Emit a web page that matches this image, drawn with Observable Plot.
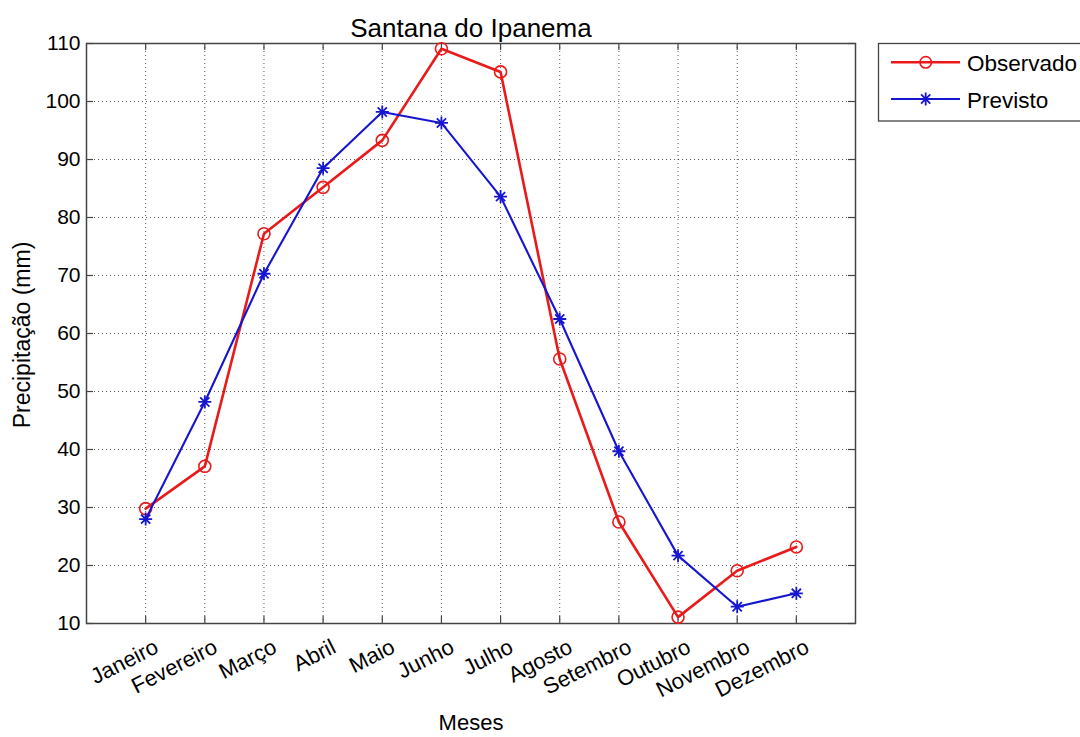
<!DOCTYPE html>
<html><head><meta charset="utf-8">
<script src="https://cdn.jsdelivr.net/npm/d3@7"></script>
<script src="https://cdn.jsdelivr.net/npm/@observablehq/plot@0.6"></script>
<style>
html,body{margin:0;padding:0;background:#fff;overflow:hidden;width:1080px;height:737px}
#chart{position:relative;width:1080px;height:737px;overflow:hidden}
</style></head><body><div id="chart"></div>
<script>
// ---- data ----
const months = ["Janeiro","Fevereiro","Março","Abril","Maio","Junho","Julho","Agosto","Setembro","Outubro","Novembro","Dezembro"];
const monthIndex = [1,2,3,4,5,6,7,8,9,10,11,12];
const observado = [29.8, 37.1, 77.2, 85.2, 93.3, 109.1, 105.1, 55.6, 27.5, 11.1, 19.1, 23.2];
const previsto  = [28.0, 48.2, 70.3, 88.5, 98.2, 96.3, 83.6, 62.5, 39.7, 21.7, 12.9, 15.2];
const yTicks = [10,20,30,40,50,60,70,80,90,100,110];
const seriesNames = ["Observado","Previsto"];
const seriesColors = ["#ea1a1a","#1616d0"];
const titleText = "Santana do Ipanema";
const xLabelText = "Meses";
const yLabelText = "Precipitação (mm)";

// ---- layout ----
const W = 1080, H = 737, mL = 86, mR = 225, mT = 43, mB = 114;
const xDom = [0, 13], yDom = [10, 110];
const FONT = "'Liberation Sans', Arial, Helvetica, sans-serif";
const tickPx = 7;
const tickLenY = (yDom[1]-yDom[0]) * tickPx / (H - mT - mB);
const tickLenX = (xDom[1]-xDom[0]) * tickPx / (W - mL - mR);

const data = months.map((m, i) => ({i: monthIndex[i], m, obs: observado[i], prev: previsto[i]}));

const star8 = {
  draw(ctx, size) {
    const r = Math.sqrt(size / Math.PI), d = r * Math.SQRT1_2;
    ctx.moveTo(-r, 0); ctx.lineTo(r, 0);
    ctx.moveTo(0, -r); ctx.lineTo(0, r);
    ctx.moveTo(-d, -d); ctx.lineTo(d, d);
    ctx.moveTo(-d, d); ctx.lineTo(d, -d);
  }
};

const gridStyle = {stroke: "#222", strokeOpacity: 0.75, strokeWidth: 1, strokeDasharray: "1,3"};
const tickStyle = {stroke: "#444", strokeWidth: 1.2};

const svg = Plot.plot({
  width: W, height: H,
  marginLeft: mL, marginRight: mR, marginTop: mT, marginBottom: mB,
  x: {domain: xDom},
  y: {domain: yDom},
  style: {fontFamily: FONT, fontSize: "21px", color: "#000", background: "#fff", overflow: "visible"},
  marks: [
    Plot.ruleX(monthIndex, {x: d => d, ...gridStyle}),
    Plot.ruleY(yTicks.slice(1, -1), {y: d => d, ...gridStyle}),
    Plot.ruleX(monthIndex, {x: d => d, y1: yDom[0], y2: yDom[0] + tickLenY, ...tickStyle}),
    Plot.ruleX(monthIndex, {x: d => d, y1: yDom[1], y2: yDom[1] - tickLenY, ...tickStyle}),
    Plot.ruleY(yTicks, {y: d => d, x1: xDom[0], x2: xDom[0] + tickLenX, ...tickStyle}),
    Plot.ruleY(yTicks, {y: d => d, x1: xDom[1], x2: xDom[1] - tickLenX, ...tickStyle}),
    Plot.frame({stroke: "#444", strokeWidth: 1.5}),
    Plot.axisX(monthIndex, {tickFormat: d => months[d - 1], tickRotate: -27, tickSize: 0, tickPadding: 22, dx: 11, fontSize: 22, label: null}),
    Plot.axisY(yTicks, {tickSize: 0, tickPadding: 6, fontSize: 21, label: null}),
    Plot.line(data, {x: "i", y: "obs", stroke: seriesColors[0], strokeWidth: 2.6}),
    Plot.dot(data, {x: "i", y: "obs", r: 6, stroke: seriesColors[0], strokeWidth: 1.6, fill: "none"}),
    Plot.line(data, {x: "i", y: "prev", stroke: seriesColors[1], strokeWidth: 2.1}),
    Plot.dot(data, {x: "i", y: "prev", r: 6.5, symbol: star8, stroke: seriesColors[1], strokeWidth: 1.8, fill: "none"})
  ]
});

const s = d3.select(svg);
// title and axis labels
s.append("text").attr("x", 471).attr("y", 37).attr("text-anchor", "middle")
  .attr("font-family", FONT).attr("font-size", 26).attr("fill", "#000").text(titleText);
s.append("text").attr("x", 471).attr("y", 730).attr("text-anchor", "middle")
  .attr("font-family", FONT).attr("font-size", 22).attr("fill", "#000").text(xLabelText);
s.append("text").attr("transform", "translate(30,335) rotate(-90)").attr("text-anchor", "middle")
  .attr("font-family", FONT).attr("font-size", 23).attr("fill", "#000").text(yLabelText);

// legend
const lg = s.append("g");
lg.append("rect").attr("x", 878.5).attr("y", 43.5).attr("width", 260).attr("height", 77.5)
  .attr("fill", "#fff").attr("stroke", "#444").attr("stroke-width", 1.3);
const rowsY = [62.3, 99];
seriesNames.forEach((name, k) => {
  const y = rowsY[k];
  lg.append("line").attr("x1", 891).attr("x2", 960).attr("y1", y).attr("y2", y)
    .attr("stroke", seriesColors[k]).attr("stroke-width", k === 0 ? 2.6 : 2.1);
  if (k === 0) {
    lg.append("circle").attr("cx", 925.7).attr("cy", y).attr("r", 5.7)
      .attr("fill", "none").attr("stroke", seriesColors[k]).attr("stroke-width", 1.6);
  } else {
    const p = d3.path(); star8.draw(p, Math.PI * 6.5 * 6.5);
    lg.append("path").attr("transform", `translate(925.7,${y})`).attr("d", p.toString())
      .attr("fill", "none").attr("stroke", seriesColors[k]).attr("stroke-width", 1.8);
  }
  lg.append("text").attr("x", 967).attr("y", y + 9).attr("text-anchor", "start").attr("font-family", FONT)
    .attr("font-size", 22.5).attr("fill", "#000").text(name);
});

document.getElementById("chart").appendChild(svg);
</script>
</body></html>
